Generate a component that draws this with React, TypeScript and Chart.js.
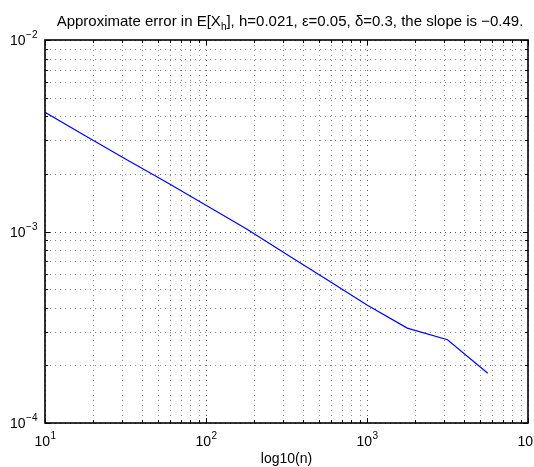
import React, { useEffect, useRef } from 'react';
import { Chart, registerables } from 'chart.js';

Chart.register(...registerables);

// ---- data ----
const nValues = [10, 17.78, 31.62, 56.23, 100, 177.8, 316.2, 562.3, 1000, 1778, 3162, 5623];
const errorValues = [4.19e-3, 3.16e-3, 2.39e-3, 1.82e-3, 1.372e-3, 1.035e-3, 7.6e-4, 5.61e-4, 4.13e-4, 3.13e-4, 2.72e-4, 1.82e-4];
const xTickExponents = [1, 2, 3, 4];
const yTickExponents = [-4, -3, -2];
const titleBefore = 'Approximate error in E[X';
const titleSub = 'h';
const titleAfter = '], h=0.021, \u03B5=0.05, \u03B4=0.3, the slope is \u22120.49.';
const xAxisTitle = 'log10(n)';

const FONT = '"Liberation Sans", Arial, Helvetica, sans-serif';

function minorValues(e0: number, e1: number): number[] {
  const out: number[] = [];
  for (let e = e0; e < e1; e++) {
    for (let m = 1; m <= 9; m++) out.push(m * Math.pow(10, e));
  }
  out.push(Math.pow(10, e1));
  return out;
}

function isMajor(v: number) {
  return Math.abs(Math.log10(v) - Math.round(Math.log10(v))) < 1e-9;
}

function drawPow(ctx: CanvasRenderingContext2D, exp: string, x: number, y: number, align: 'center' | 'right') {
  ctx.font = `14px ${FONT}`;
  const wb = ctx.measureText('10').width;
  ctx.font = `10px ${FONT}`;
  const we = ctx.measureText(exp).width;
  const total = wb + we;
  const start = align === 'center' ? x - total / 2 : x - total;
  ctx.textAlign = 'left';
  ctx.textBaseline = 'alphabetic';
  ctx.font = `14px ${FONT}`;
  ctx.fillText('10', start, y);
  ctx.font = `10px ${FONT}`;
  ctx.fillText(exp, start + wb + 0.5, y - 7);
}

const matlabPlugin = {
  id: 'matlabAxes',
  beforeDatasetsDraw(chart: any) {
    const { ctx, chartArea: a, scales } = chart;
    const x = scales.x;
    const y = scales.y;
    ctx.save();
    ctx.lineWidth = 1;
    ctx.setLineDash([1, 4]);
    minorValues(1, 4).forEach((v) => {
      const px = Math.round(x.getPixelForValue(v)) + 0.5;
      ctx.strokeStyle = isMajor(v) ? '#555' : '#8a8a8a';
      ctx.beginPath();
      ctx.moveTo(px, a.top);
      ctx.lineTo(px, a.bottom);
      ctx.stroke();
    });
    minorValues(-4, -2).forEach((v) => {
      const py = Math.round(y.getPixelForValue(v)) + 0.5;
      ctx.strokeStyle = isMajor(v) ? '#555' : '#8a8a8a';
      ctx.beginPath();
      ctx.moveTo(a.left, py);
      ctx.lineTo(a.right, py);
      ctx.stroke();
    });
    ctx.restore();
  },
  afterDatasetsDraw(chart: any) {
    const { ctx, chartArea: a, scales } = chart;
    const x = scales.x;
    const y = scales.y;
    ctx.save();
    ctx.setLineDash([]);
    ctx.strokeStyle = '#000';
    ctx.lineWidth = 1;
    minorValues(1, 4).forEach((v) => {
      const len = isMajor(v) ? 5 : 3;
      const px = Math.round(x.getPixelForValue(v)) + 0.5;
      ctx.beginPath();
      ctx.moveTo(px, a.bottom);
      ctx.lineTo(px, a.bottom - len);
      ctx.moveTo(px, a.top);
      ctx.lineTo(px, a.top + len);
      ctx.stroke();
    });
    minorValues(-4, -2).forEach((v) => {
      const len = isMajor(v) ? 5 : 3;
      const py = Math.round(y.getPixelForValue(v)) + 0.5;
      ctx.beginPath();
      ctx.moveTo(a.left, py);
      ctx.lineTo(a.left + len, py);
      ctx.moveTo(a.right, py);
      ctx.lineTo(a.right - len, py);
      ctx.stroke();
    });
    ctx.lineWidth = 1.6;
    ctx.strokeRect(Math.round(a.left), Math.round(a.top), Math.round(a.right - a.left), Math.round(a.bottom - a.top));

    ctx.fillStyle = '#000';
    xTickExponents.forEach((e) => {
      const px = x.getPixelForValue(Math.pow(10, e));
      drawPow(ctx, String(e), px, 446, 'center');
    });
    yTickExponents.forEach((e) => {
      const py = y.getPixelForValue(Math.pow(10, e));
      drawPow(ctx, String(e).replace('-', '\u2212'), a.left - 8, py + 5, 'right');
    });
    ctx.font = `14px ${FONT}`;
    ctx.textAlign = 'center';
    ctx.fillText(xAxisTitle, (a.left + a.right) / 2, 463);

    ctx.textAlign = 'left';
    ctx.font = `15px ${FONT}`;
    const w1 = ctx.measureText(titleBefore).width;
    const w3 = ctx.measureText(titleAfter).width;
    ctx.font = `10px ${FONT}`;
    const w2 = ctx.measureText(titleSub).width;
    const total = w1 + w2 + w3;
    const cx = 290;
    let sx = cx - total / 2;
    const by = 26;
    ctx.font = `15px ${FONT}`;
    ctx.fillText(titleBefore, sx, by);
    sx += w1;
    ctx.font = `10px ${FONT}`;
    ctx.fillText(titleSub, sx, by + 4);
    sx += w2;
    ctx.font = `15px ${FONT}`;
    ctx.fillText(titleAfter, sx, by);
    ctx.restore();
  },
};

export default function App() {
  const ref = useRef<HTMLCanvasElement>(null);
  useEffect(() => {
    document.body.style.margin = '0';
    const canvas = ref.current!;
    const chart = new Chart(canvas, {
      type: 'line',
      data: {
        datasets: [
          {
            data: nValues.map((n, i) => ({ x: n, y: errorValues[i] })),
            borderColor: '#0000ff',
            borderWidth: 1.2,
            pointRadius: 0,
            tension: 0,
            fill: false,
          },
        ],
      },
      options: {
        animation: false,
        responsive: false,
        devicePixelRatio: 1,
        layout: { padding: { left: 45, right: 6, top: 40, bottom: 44 } },
        plugins: { legend: { display: false }, tooltip: { enabled: false }, title: { display: false } },
        scales: {
          x: {
            type: 'logarithmic',
            min: 10,
            max: 10000,
            ticks: { display: false },
            grid: { display: false, drawTicks: false },
            border: { display: false },
            afterFit: (s: any) => {
              s.height = 0;
            },
          },
          y: {
            type: 'logarithmic',
            min: 1e-4,
            max: 1e-2,
            ticks: { display: false },
            grid: { display: false, drawTicks: false },
            border: { display: false },
            afterFit: (s: any) => {
              s.width = 0;
            },
          },
        },
      },
      plugins: [matlabPlugin],
    } as any);
    return () => chart.destroy();
  }, []);
  return (
    <div style={{ width: 534, height: 467, background: '#fff' }}>
      <canvas ref={ref} width={534} height={467} style={{ display: 'block' }} />
    </div>
  );
}
